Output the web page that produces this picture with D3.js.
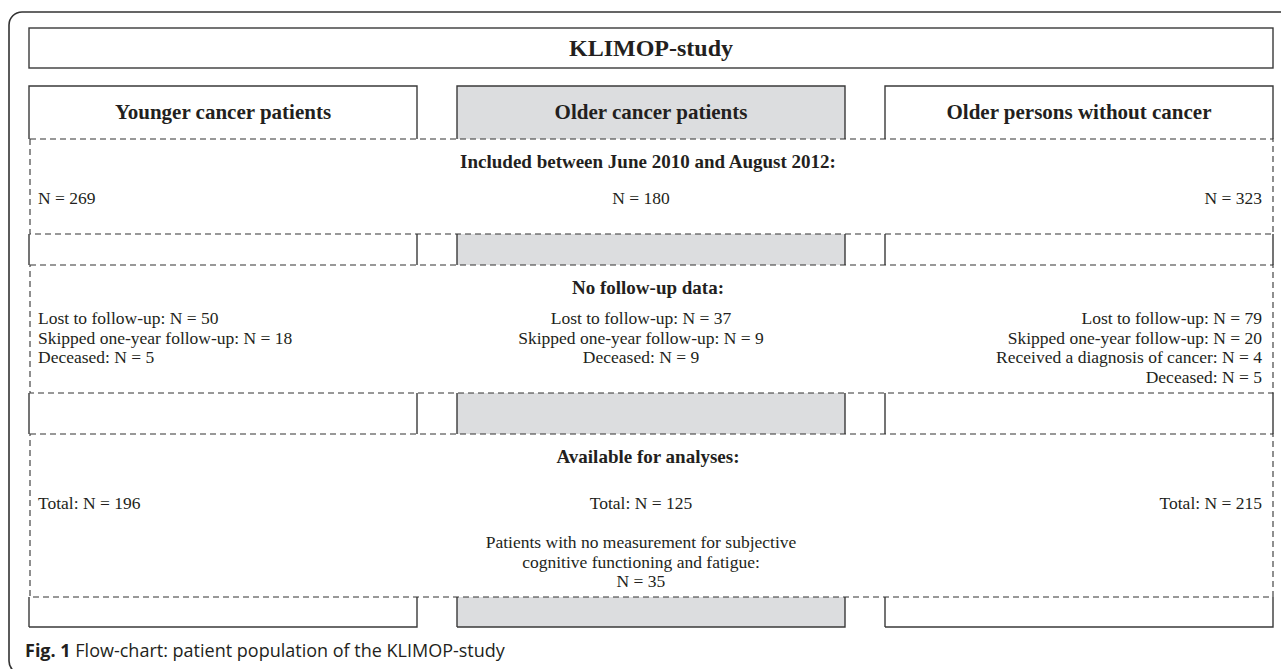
<!DOCTYPE html>
<html>
<head>
<meta charset="utf-8">
<script src="https://cdn.jsdelivr.net/npm/d3@7/dist/d3.min.js"></script>
<style>
  html, body { margin: 0; padding: 0; background: #ffffff; }
  svg { display: block; }
</style>
</head>
<body>
<svg id="chart" width="1281" height="669"></svg>
<script>
// ---------------- data ----------------
const studyTitle = "KLIMOP-study";
const columns = ["Younger cancer patients", "Older cancer patients", "Older persons without cancer"];
const highlighted = [false, true, false];
const stageTitles = ["Included between June 2010 and August 2012:", "No follow-up data:", "Available for analyses:"];
const includedN = [269, 180, 323];
const lostN = [50, 37, 79];
const skippedN = [18, 9, 20];
const cancerDiagN = [null, null, 4];
const deceasedN = [5, 9, 5];
const totalN = [196, 125, 215];
const noMeasurementN = [null, 35, null];
const noMeasurementLabel = ["Patients with no measurement for subjective", "cognitive functioning and fatigue:"];
const captionBold = "Fig. 1";
const captionText = " Flow-chart: patient population of the KLIMOP-study";

// ---------------- layout ----------------
const svg = d3.select("#chart");
const serif = "'Liberation Serif', 'Times New Roman', serif";
const textCol = "#231f20";
const lineCol = "#3a3a3a";
const greyFill = "#dcdddf";

const x = d3.scaleBand().domain(columns).range([29, 1273]).paddingInner(40 / 428).paddingOuter(0);
const left = x.range()[0], right = x.range()[1];

// vertical bands (top, bottom) of the three dashed stage frames
const stageY = [[139, 234], [265, 393], [434, 597]];
const headerY = [86, 139];
const bottomY = 627;

// outer rounded frame (runs off the right and bottom edges)
svg.append("rect")
  .attr("x", 9).attr("y", 12).attr("width", 1310).attr("height", 662)
  .attr("rx", 13).attr("ry", 13)
  .attr("fill", "none").attr("stroke", "#333").attr("stroke-width", 1.6);

// top title box
svg.append("rect")
  .attr("x", left).attr("y", 28).attr("width", right - left).attr("height", 40)
  .attr("fill", "#fff").attr("stroke", lineCol).attr("stroke-width", 1.4);
svg.append("text")
  .attr("x", (left + right) / 2).attr("y", 56)
  .attr("text-anchor", "middle")
  .attr("font-family", serif).attr("font-weight", "bold").attr("font-size", 24)
  .attr("fill", textCol).text(studyTitle);

// column connector boxes (solid sides): header, between stages, below last stage
const colSegments = [
  [headerY[0], headerY[1], true],
  [stageY[0][1], stageY[1][0], false],
  [stageY[1][1], stageY[2][0], false],
  [stageY[2][1], bottomY, false]
];
colSegments.forEach(([y0, y1, hasTop], si) => {
  const g = svg.append("g");
  g.selectAll("rect.fill").data(columns).join("rect")
    .attr("x", d => x(d)).attr("y", y0).attr("width", x.bandwidth()).attr("height", y1 - y0)
    .attr("fill", (d, i) => highlighted[i] ? greyFill : "#fff").attr("stroke", "none");
  g.selectAll("path.side").data(columns).join("path")
    .attr("d", d => {
      const a = x(d), b = x(d) + x.bandwidth();
      let p = `M${a},${y1}L${a},${y0}`;
      if (hasTop) p += `L${b},${y0}`; else p += `M${b},${y0}`;
      p += `L${b},${y1}`;
      if (si === colSegments.length - 1) p += `L${a},${y1}`;
      return p;
    })
    .attr("fill", "none").attr("stroke", lineCol).attr("stroke-width", 1.4);
});

// column titles
svg.selectAll("text.coltitle").data(columns).join("text")
  .attr("x", d => x(d) + x.bandwidth() / 2).attr("y", 119)
  .attr("text-anchor", "middle")
  .attr("font-family", serif).attr("font-weight", "bold").attr("font-size", 21)
  .attr("fill", textCol).text(d => d);

// dashed stage frames
stageY.forEach(([y0, y1]) => {
  svg.append("rect")
    .attr("x", left + 1).attr("y", y0).attr("width", right - left - 1).attr("height", y1 - y0)
    .attr("fill", "none").attr("stroke", "#333").attr("stroke-width", 1.1)
    .attr("stroke-dasharray", "6,4");
});

// stage titles
svg.selectAll("text.stage").data(stageTitles).join("text")
  .attr("x", (left + right) / 2 - 3).attr("y", (d, i) => stageY[i][0] + 29)
  .attr("text-anchor", "middle")
  .attr("font-family", serif).attr("font-weight", "bold").attr("font-size", 19)
  .attr("fill", textCol).text(d => d);

// per-column text blocks
const anchors = ["start", "middle", "end"];
const ax = i => i === 0 ? x(columns[0]) + 9 : i === 1 ? 641 : x(columns[2]) + x.bandwidth() - 11;
const lh = 19.5;

function block(lines, i, yBase) {
  svg.append("g").selectAll("text").data(lines).join("text")
    .attr("x", ax(i)).attr("y", (d, k) => yBase + k * lh)
    .attr("text-anchor", anchors[i])
    .attr("font-family", serif).attr("font-size", 17.5)
    .attr("fill", textCol).text(d => d);
}

columns.forEach((c, i) => {
  block([`N = ${includedN[i]}`], i, 204);
  const fu = [`Lost to follow-up: N = ${lostN[i]}`, `Skipped one-year follow-up: N = ${skippedN[i]}`];
  if (cancerDiagN[i] != null) fu.push(`Received a diagnosis of cancer: N = ${cancerDiagN[i]}`);
  fu.push(`Deceased: N = ${deceasedN[i]}`);
  block(fu, i, 324);
  block([`Total: N = ${totalN[i]}`], i, 509);
  if (noMeasurementN[i] != null) {
    block([...noMeasurementLabel, `N = ${noMeasurementN[i]}`], i, 548);
  }
});

// caption
const cap = svg.append("text").attr("x", 25).attr("y", 657)
  .attr("font-family", "'Open Sans', 'Noto Sans', sans-serif").attr("font-size", 18).attr("fill", "#231f20");
cap.append("tspan").attr("font-weight", "bold").text(captionBold);
cap.append("tspan").text(captionText);
</script>
</body>
</html>
